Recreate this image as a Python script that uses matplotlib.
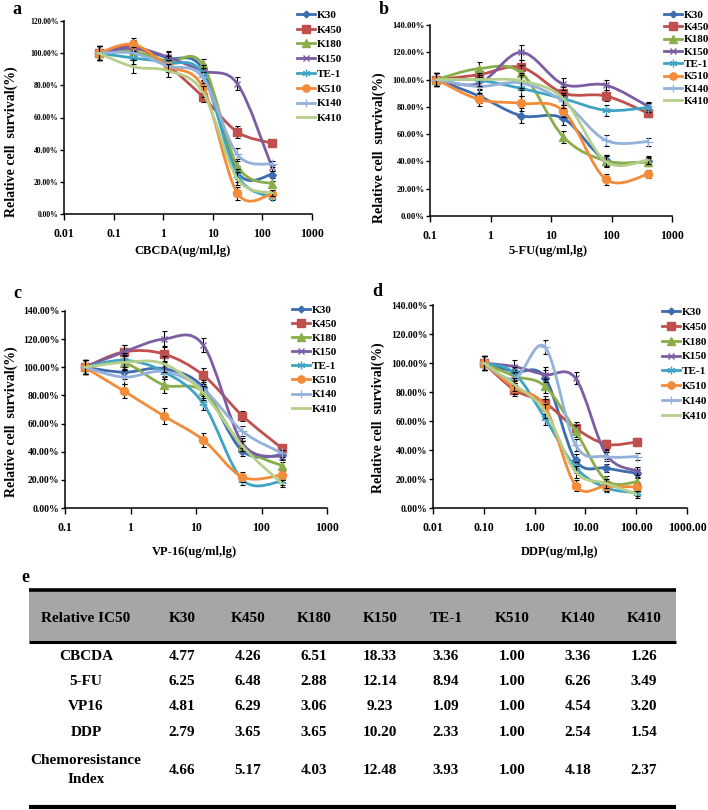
import numpy as np
import matplotlib
matplotlib.use('Agg')
import matplotlib.pyplot as plt
from matplotlib.path import Path
from matplotlib.patches import PathPatch
from matplotlib.lines import Line2D
from matplotlib.ticker import NullLocator

plt.rcParams['font.family'] = ['Liberation Serif', 'DejaVu Serif']
plt.rcParams['font.weight'] = 'bold'

# ---- data ----
lines_names = ['K30', 'K450', 'K180', 'K150', 'TE-1', 'K510', 'K140', 'K410']

conc_a = [0.05, 0.25, 1.25, 6.25, 31.25, 156.25]
conc_b = [0.128, 0.64, 3.2, 16, 80, 400]
conc_c = [0.2, 0.8, 3.2, 12.8, 51.2, 204.8]
conc_d = [0.1, 0.4, 1.6, 6.4, 25.6, 102.4]

surv_a = {
    'K30':  [100, 103, 97, 90, 26, 24.5],
    'K450': [100, 104, 92, 73, 51, 44],
    'K180': [100, 101, 95, 93, 30, 18.7],
    'K150': [100, 103.5, 97.5, 89, 81, 29],
    'TE-1': [100, 97, 94, 87, 24, 10.5],
    'K510': [100, 105.5, 92, 79, 13, 12.5],
    'K140': [100, 100, 92, 85, 37, 31],
    'K410': [100, 91.5, 89, 76, 22, 13],
}
surv_b = {
    'K30':  [100, 88, 73.5, 71.5, 41, 40],
    'K450': [100, 103.5, 109, 90, 88, 75.5],
    'K180': [100, 108, 105, 58, 40.5, 39.5],
    'K150': [100, 97, 120, 96.5, 96, 80.5],
    'TE-1': [100, 99.5, 93.5, 86, 77.5, 79.5],
    'K510': [100, 85.5, 82.5, 77, 27, 30.5],
    'K140': [100, 95, 97.5, 84, 55.5, 54.5],
    'K410': [100, 100, 99, 86, 40, 41],
}
surv_c = {
    'K30':  [100, 96.5, 99, 86, 40.5, 37.5],
    'K450': [100, 111, 109.5, 94.5, 65.5, 42.5],
    'K180': [100, 103, 87.5, 83, 44, 30],
    'K150': [100, 111, 120, 116, 46, 36.5],
    'TE-1': [100, 105, 97, 74.5, 20, 19],
    'K510': [100, 83, 65.5, 48.5, 22, 23.5],
    'K140': [100, 93, 97, 84.5, 54.5, 39],
    'K410': [100, 103.5, 102.5, 82, 44, 17.5],
}
surv_d = {
    'K30':  [100, 94, 90, 33, 27.5, 24],
    'K450': [100, 81.5, 72.5, 55, 44, 45.5],
    'K180': [100, 91, 84, 53, 19, 18],
    'K150': [100, 97.5, 92, 89.5, 37, 25.5],
    'TE-1': [100, 93, 62, 28, 14, 10.5],
    'K510': [100, 83, 70, 15.5, 15, 14.5],
    'K140': [100, 89, 111, 43.5, 35.5, 35.5],
    'K410': [100, 85, 67, 25, 17, 9.5],
}

err_a = [4.5, 4, 4, 3.5, 4, 2]
err_b = [5, 5, 5.5, 4.5, 4, 3]
err_c = [5, 5, 5.5, 5, 3.5, 2.5]
err_d = [5, 4.5, 5, 4, 3, 2.5]

ticks_a = [0.01, 0.1, 1, 10, 100, 1000]
ticklab_a = ['0.01', '0.1', '1', '10', '100', '1000']
ticks_b = [0.1, 1, 10, 100, 1000]
ticklab_b = ['0.1', '1', '10', '100', '1000']
ticks_d = [0.01, 0.1, 1, 10, 100, 1000]
ticklab_d = ['0.01', '0.10', '1.00', '10.00', '100.00', '1000.00']

tbl_header = ['Relative IC50', 'K30', 'K450', 'K180', 'K150', 'TE-1', 'K510', 'K140', 'K410']
tbl_rows = ['CBCDA', '5-FU', 'VP16', 'DDP', 'Chemoresistance\nIndex']
tbl_vals = [
    ['4.77', '4.26', '6.51', '18.33', '3.36', '1.00', '3.36', '1.26'],
    ['6.25', '6.48', '2.88', '12.14', '8.94', '1.00', '6.26', '3.49'],
    ['4.81', '6.29', '3.06', '9.23', '1.09', '1.00', '4.54', '3.20'],
    ['2.79', '3.65', '3.65', '10.20', '2.33', '1.00', '2.54', '1.54'],
    ['4.66', '5.17', '4.03', '12.48', '3.93', '1.00', '4.18', '2.37'],
]

# ---- styles ----
style = {
    'K30':  dict(color='#3D6DB0', marker='D', ms=3.8),
    'K450': dict(color='#C0504D', marker='s', ms=5.8),
    'K180': dict(color='#8AAE4A', marker='^', ms=5.8),
    'K150': dict(color='#7B5DA3', marker='x', ms=5, mew=1.0),
    'TE-1': dict(color='#3FA4C4', marker=(6, 2, 0), ms=6, mew=0.9),
    'K510': dict(color='#F28C3A', marker='o', ms=5.8),
    'K140': dict(color='#93B1DA', marker='+', ms=7, mew=0.9),
    'K410': dict(color='#B5CF8A', marker=None, ms=0),
}

W, H = 708, 810


def box(l, t, r, b):
    return [l / W, 1 - b / H, (r - l) / W, (b - t) / H]


def smooth_path(xs, ys):
    # Excel-like smoothed line: cubic Bezier through points in (log x, y)
    lx = np.log10(xs)
    y = np.asarray(ys, dtype=float)
    n = len(lx)
    verts = [(xs[0], y[0])]
    codes = [Path.MOVETO]
    for i in range(n - 1):
        p0 = max(i - 1, 0)
        p3 = min(i + 2, n - 1)
        c1 = (lx[i] + (lx[i + 1] - lx[p0]) / 6, y[i] + (y[i + 1] - y[p0]) / 6)
        c2 = (lx[i + 1] - (lx[p3] - lx[i]) / 6, y[i + 1] - (y[p3] - y[i]) / 6)
        verts += [(10 ** c1[0], c1[1]), (10 ** c2[0], c2[1]), (xs[i + 1], y[i + 1])]
        codes += [Path.CURVE4] * 3
    return Path(verts, codes)


fig = plt.figure(figsize=(7.08, 8.10), dpi=100)

panels = [
    # rect, conc, data, err, xlim, ymax, ticks, ticklabels, ytick size, legend anchor, legend spacing
    (box(64, 21, 312, 214), conc_a, surv_a, err_a, (0.01, 1000), 120, ticks_a, ticklab_a, 5.5, (297, 10), 0.45),
    (box(430, 25, 672, 216), conc_b, surv_b, err_b, (0.1, 1000), 140, ticks_b, ticklab_b, 6.2, (664, 10), 0.23),
    (box(65, 311, 327, 508), conc_c, surv_c, err_c, (0.1, 1000), 140, ticks_b, ticklab_b, 7, (292, 305), 0.39),
    (box(433, 305, 687, 508), conc_d, surv_d, err_d, (0.01, 1000), 140, ticks_d, ticklab_d, 7, (662, 307), 0.46),
]

for rect, conc, data, err, xlim, ymax, ticks, ticklab, ysize, leg_xy, leg_sp in panels:
    ax = fig.add_axes(rect)
    ax.set_xscale('log')
    z = 2
    handles = []
    for name in lines_names:
        st = style[name]
        ys = data[name]
        ax.errorbar(conc, ys, yerr=err, fmt='none', ecolor='black', elinewidth=0.8,
                    capsize=1.8, capthick=0.8, zorder=z)
        ax.add_patch(PathPatch(smooth_path(conc, ys), fill=False, edgecolor=st['color'],
                               lw=2.0, zorder=z + 0.1, capstyle='round'))
        if st['marker'] is not None:
            ax.plot(conc, ys, ls='none', marker=st['marker'], ms=st['ms'], color=st['color'],
                    mew=st.get('mew', 1.0), zorder=z + 0.2)
        handles.append(Line2D([], [], color=st['color'], lw=2.0, marker=st['marker'],
                              ms=st['ms'] * 0.9, mew=st.get('mew', 1.0)))
        z += 1
    ax.set_xlim(*xlim)
    ax.set_ylim(0, ymax)
    ax.set_xticks(ticks)
    ax.set_xticklabels(ticklab)
    ax.xaxis.set_minor_locator(NullLocator())
    yt = list(range(0, ymax + 1, 20))
    ax.set_yticks(yt)
    ax.set_yticklabels(['%.2f%%' % v for v in yt])
    for s in ['top', 'right']:
        ax.spines[s].set_visible(False)
    for s in ['left', 'bottom']:
        ax.spines[s].set_linewidth(1.1)
    ax.tick_params(axis='x', direction='out', length=4, width=1, pad=6, labelsize=8.5)
    ax.tick_params(axis='y', direction='out', length=3, width=1, pad=1, labelsize=ysize)
    ax.patch.set_alpha(0)
    leg = fig.legend(handles, lines_names, loc='upper left',
                     bbox_to_anchor=(leg_xy[0] / W, 1 - leg_xy[1] / H),
                     bbox_transform=fig.transFigure, frameon=False, fontsize=8,
                     handlelength=1.6, handletextpad=0.15, labelspacing=leg_sp,
                     borderpad=0, borderaxespad=0)


def ftext(x, y, s, **kw):
    fig.text(x / W, 1 - y / H, s, **kw)


# y axis titles
for x, y in [(11, 142), (379, 148), (11, 422), (378, 418)]:
    ftext(x, y, 'Relative cell  survival(%)', rotation=90, ha='center', va='center', fontsize=10)
# x axis titles
for x, y, s in [(183, 251, 'CBCDA(ug/ml,lg)'), (548, 251, '5-FU(ug/ml,lg)'),
                (194, 552, 'VP-16(ug/ml,lg)'), (560, 552, 'DDP(ug/ml,lg)')]:
    ftext(x, y, s, ha='center', va='center', fontsize=9)
# panel letters
ftext(17, 1, 'a', ha='center', va='top', fontsize=13)
for x, y, s in [(384, 10, 'b'), (17, 294, 'c'), (377, 292, 'd'), (25, 577, 'e')]:
    ftext(x, y, s, ha='center', va='center', fontsize=13)

# ---- table e ----
axt = fig.add_axes(box(0, 560, 708, 810))
axt.set_xlim(0, W)
axt.set_ylim(810, 560)
axt.axis('off')
tx0, tx1 = 29, 676
axt.fill_between([tx0, tx1], 591, 641, color='#A6A6A6', lw=0)
axt.plot([tx0, tx1], [590, 590], color='black', lw=2.6, solid_capstyle='butt')
axt.plot([tx0, tx1], [641.5, 641.5], color='black', lw=2.2, solid_capstyle='butt')
axt.plot([tx0, tx1], [806.5, 806.5], color='black', lw=3.0, solid_capstyle='butt')

col_x = [86] + [182 + 66 * i for i in range(8)]
row_y = [656, 681.5, 707, 733, 770]
for cx, h in zip(col_x, tbl_header):
    axt.text(cx, 618, h, ha='center', va='center', fontsize=11)
for ry, rname, vals in zip(row_y, tbl_rows, tbl_vals):
    axt.text(col_x[0], ry, rname, ha='center', va='center', fontsize=11, linespacing=1.55)
    for cx, v in zip(col_x[1:], vals):
        axt.text(cx, ry, v, ha='center', va='center', fontsize=11)

fig.savefig('out.png', dpi=100)
